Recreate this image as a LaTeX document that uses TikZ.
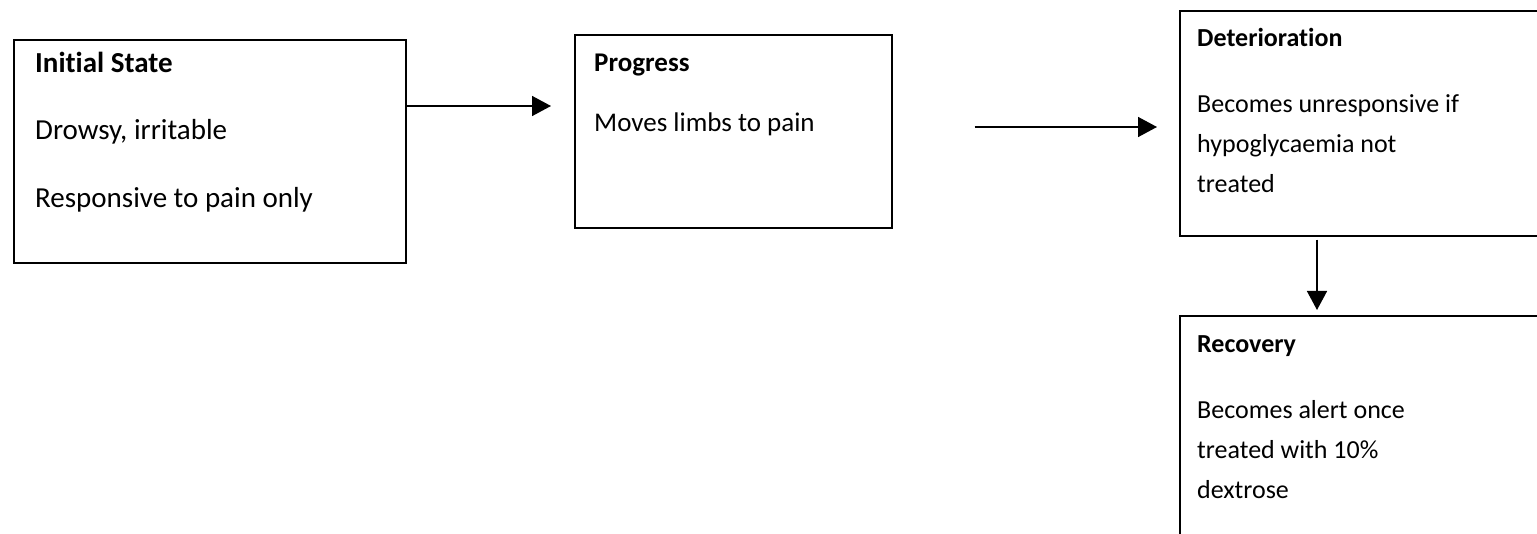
\documentclass[tikz,border=0pt]{standalone}
\usepackage{fontspec}
\setmainfont{Carlito}[Ligatures={NoCommon}]
\usetikzlibrary{arrows.meta}
\begin{document}
\begin{tikzpicture}[x=1pt,y=-1pt,
  box/.style={draw, line width=1.6pt, rectangle, inner sep=0pt, anchor=north west},
  txt/.style={anchor=base west, inner sep=0pt},
  fa/.style={font=\fontsize{29}{35}\selectfont},
  fb/.style={font=\fontsize{27}{33}\selectfont},
  fc/.style={font=\fontsize{26}{32}\selectfont},
  arr/.style={line width=1.5pt, -{Triangle[length=19pt,width=20pt]}}]
\useasboundingbox (0,0) rectangle (1537,534);
\begin{scope}
\clip (0,0) rectangle (1537,534);
% boxes
\node[box, minimum width=392pt, minimum height=223pt] (init) at (13,39) {};
\node[box, minimum width=317pt, minimum height=193pt] (prog) at (574,34) {};
\node[box, minimum width=400pt, minimum height=225pt] (det) at (1179,10) {};
\node[box, minimum width=400pt, minimum height=260pt] (rec) at (1179,315) {};
\end{scope}
% texts
\node[txt, fa] (initT) at (35,73) {\bfseries Initial State};
\node[txt, fa] (initA) at (35,140) {Drowsy, irritable};
\node[txt, fa] (initB) at (35,208) {Responsive to pain only};
\node[txt, fb] (progT) at (594,72) {\bfseries Progress};
\node[txt, fb] (progA) at (594,132) {Moves limbs to pain};
\node[txt, fc] (detT) at (1197,47) {\bfseries Deterioration};
\node[txt, fc] (detA) at (1197,113) {Becomes unresponsive if};
\node[txt, fc] (detB) at (1197,153) {hypoglycaemia not};
\node[txt, fc] (detC) at (1197,193) {treated};
\node[txt, fc] (recT) at (1197,353) {\bfseries Recovery};
\node[txt, fc] (recA) at (1197,418) {Becomes alert once};
\node[txt, fc] (recB) at (1197,458) {treated with 10\%};
\node[txt, fc] (recC) at (1197,498) {dextrose};
% connectors
\coordinate (y1) at (0,106);
\coordinate (y2) at (0,127);
\coordinate (x3) at (1317,0);
\draw[arr, shorten >=23pt] (init.east |- y1) -- (prog.west |- y1);
\draw[arr, shorten <=82pt, shorten >=22pt] (prog.east |- y2) -- (det.west |- y2);
\draw[arr, shorten <=3pt, shorten >=5pt] (det.south -| x3) -- (rec.north -| x3);
\end{tikzpicture}
\end{document}
